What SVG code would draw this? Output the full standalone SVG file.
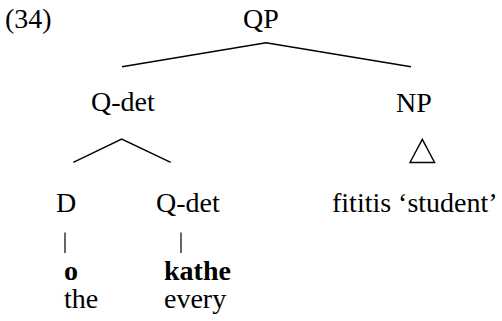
<svg xmlns="http://www.w3.org/2000/svg" width="502" height="321" viewBox="0 0 502 321">
<rect width="502" height="321" fill="#fff"/>
<text x="5" y="28" font-family="Times New Roman" font-size="28">(34)</text>
<g id="qp"><text x="243" y="28" font-family="Times New Roman" font-size="28">QP</text></g>
<g id="qdet1"><text x="91" y="111" font-family="Times New Roman" font-size="28">Q-det</text></g>
<g id="np"><text x="396" y="112" font-family="Times New Roman" font-size="28">NP</text></g>
<g id="d"><text x="56" y="212" font-family="Times New Roman" font-size="28">D</text><text x="64" y="280" font-family="Times New Roman" font-size="28" font-weight="bold">o</text><text x="64" y="308" font-family="Times New Roman" font-size="28">the</text></g>
<g id="qdet2"><text x="156" y="212" font-family="Times New Roman" font-size="28">Q-det</text><text x="164" y="280" font-family="Times New Roman" font-size="28" font-weight="bold">kathe</text><text x="164" y="308" font-family="Times New Roman" font-size="28">every</text></g>
<g id="fititis"><text x="332" y="212" font-family="Times New Roman" font-size="28">fititis ‘student’</text></g>
<g id="connectors" stroke="#000" stroke-width="1.4" fill="none">
<polyline points="122,66.7 266,42.7 411,66.7"/>
<polyline points="73.3,162.3 121.7,139 170.7,162.3"/>
<polygon points="422.3,139.3 410,162.5 434.6,162.5"/>
<line x1="65" y1="232.5" x2="65" y2="253" stroke-width="1.2"/>
<line x1="181" y1="232.5" x2="181" y2="253" stroke-width="1.2"/>
</g>
</svg>
